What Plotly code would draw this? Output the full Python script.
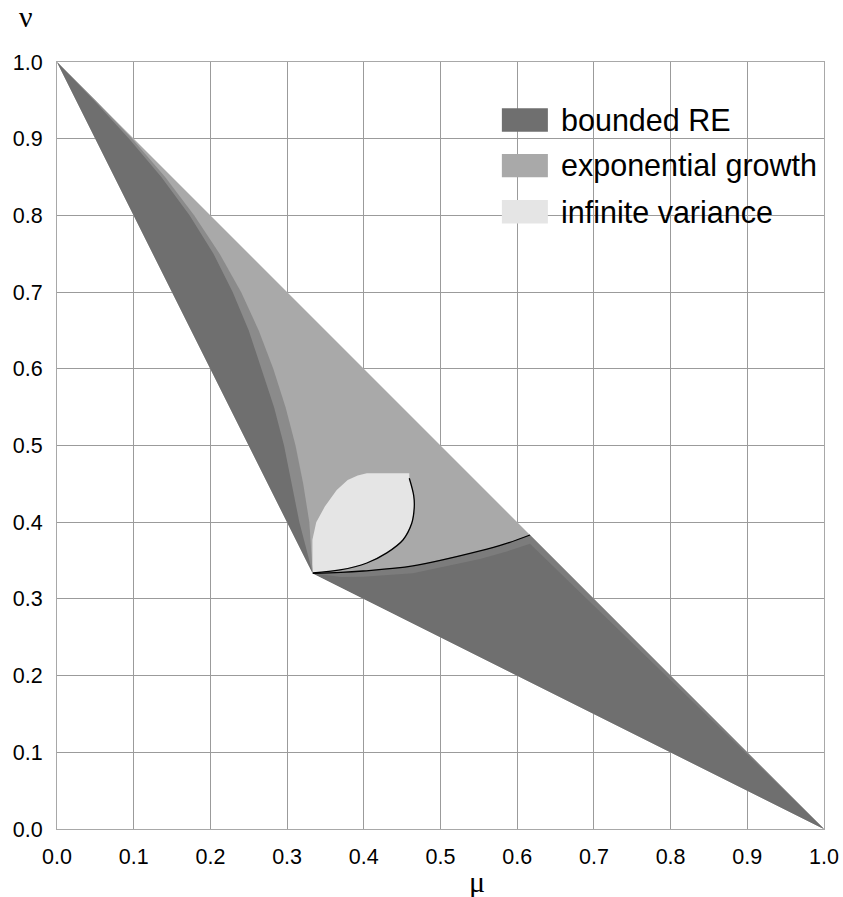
import plotly.graph_objects as go

# ---- data ----
# outer triangle (mu, nu)
tri_mu = [0.0, 1.0, 1/3, 0.0]
tri_nu = [1.0, 0.0, 1/3, 1.0]

# boundary of the left "bounded RE" wedge (dark side and end of soft shading)
left_nu = [1.0, 0.95, 0.9, 0.85, 0.8, 0.75, 0.7, 0.65, 0.6, 0.55, 0.5, 0.45, 0.4, 1/3]
left_mu_dark = [0.0, 0.048, 0.094, 0.136, 0.173, 0.204, 0.229, 0.250, 0.267, 0.283, 0.296, 0.306, 0.316, 1/3]
left_mu_shade = [0.0, 0.050, 0.098, 0.141, 0.179, 0.212, 0.240, 0.263, 0.282, 0.298, 0.311, 0.321, 0.329, 1/3]

# lower black curve separating exponential growth from bounded RE (right part)
low_mu = [1/3, 0.370, 0.399, 0.464, 0.5515, 0.584, 0.6167]
low_nu = [1/3, 0.3345, 0.3364, 0.343, 0.3625, 0.3716, 0.3833]
# lower end of the soft shading below that curve
low_shade_nu = [1/3, 0.3285, 0.3290, 0.3335, 0.3520, 0.3610, 0.3720]

# infinite variance lens
lens_mu = [0.3338, 0.333, 0.333, 0.338, 0.349, 0.3647, 0.379, 0.392, 0.404, 0.4593,
           0.4593, 0.4650, 0.4658, 0.4625, 0.451, 0.430, 0.404, 0.369, 0.3338]
lens_nu = [0.3338, 0.345, 0.377, 0.400, 0.420, 0.442, 0.455, 0.461, 0.4637, 0.4637,
           0.4573, 0.435, 0.420, 0.3986, 0.3768, 0.360, 0.3468, 0.3377, 0.3338]
# black curve on the right side of the lens
lens_edge_mu = [0.4593, 0.4650, 0.4658, 0.4625, 0.451, 0.430, 0.404, 0.369, 0.3338]
lens_edge_nu = [0.4573, 0.435, 0.420, 0.3986, 0.3768, 0.360, 0.3468, 0.3377, 0.3338]

legend_names = ["bounded RE", "exponential growth", "infinite variance"]
legend_colors = ["#6f6f6f", "#a9a9a9", "#e5e5e5"]
shade_color = "#8b8b8b"
low_shade_color = "#7c7c7c"

tick_vals = [i / 10 for i in range(11)]
tick_text = [f"{v:.1f}" for v in tick_vals]

DARK, MED, LIGHT = legend_colors

fig = go.Figure()


def poly(xs, ys, color):
    fig.add_trace(go.Scatter(x=xs, y=ys, mode="lines", fill="toself",
                             fillcolor=color, line=dict(width=0, color=color),
                             hoverinfo="skip", showlegend=False))


# whole admissible triangle: exponential growth
poly(tri_mu, tri_nu, MED)

# left wedge: soft shading band then dark
poly([tri_mu[0], tri_mu[2]] + left_mu_shade[::-1],
     [tri_nu[0], tri_nu[2]] + left_nu[::-1], shade_color)
poly([tri_mu[0], tri_mu[2]] + left_mu_dark[::-1],
     [tri_nu[0], tri_nu[2]] + left_nu[::-1], DARK)

# lower right region: soft band under the curve, then dark
poly(low_mu + [tri_mu[1], tri_mu[2]], low_nu + [tri_nu[1], tri_nu[2]], low_shade_color)
poly(low_mu + [tri_mu[1], tri_mu[2]], low_shade_nu + [tri_nu[1], tri_nu[2]], DARK)

# lens
poly(lens_mu, lens_nu, LIGHT)

# black boundary curves
fig.add_trace(go.Scatter(x=lens_edge_mu, y=lens_edge_nu, mode="lines",
                         line=dict(color="black", width=1.3, shape="spline"),
                         hoverinfo="skip", showlegend=False))
fig.add_trace(go.Scatter(x=low_mu, y=low_nu, mode="lines",
                         line=dict(color="black", width=1.3, shape="spline"),
                         hoverinfo="skip", showlegend=False))

# custom legend (large swatches)
leg_x0, leg_x1, leg_tx = 0.580, 0.640, 0.6550
leg_y = [0.9244, 0.8648, 0.8048]
leg_h = 0.0304
shapes = []
annotations = []
for name, col, yc in zip(legend_names, legend_colors, leg_y):
    shapes.append(dict(type="rect", xref="x", yref="y", x0=leg_x0, x1=leg_x1,
                       y0=yc - leg_h / 2, y1=yc + leg_h / 2,
                       fillcolor=col, line=dict(width=0), layer="above"))
    annotations.append(dict(x=leg_tx, y=yc, xref="x", yref="y", text=name,
                            showarrow=False, xanchor="left", yanchor="middle",
                            font=dict(family="Liberation Sans, Arial", size=30.5, color="black")))

annotations.append(dict(x=0.5476, y=-0.069, xref="paper", yref="paper", text="μ",
                        showarrow=False, xanchor="center", yanchor="middle",
                        font=dict(family="Liberation Serif, Times New Roman", size=30, color="black")))
annotations.append(dict(x=-0.0404, y=1.0587, xref="paper", yref="paper", text="ν",
                        showarrow=False, xanchor="center", yanchor="middle",
                        font=dict(family="Liberation Serif, Times New Roman", size=30, color="black")))

axis_common = dict(range=[0, 1], tickvals=tick_vals, ticktext=tick_text,
                   showgrid=True, gridcolor="#9b9b9b", gridwidth=1,
                   zeroline=False, showline=True, linecolor="#a8a8a8", linewidth=1,
                   mirror=True, ticks="outside", tickcolor="rgba(0,0,0,0)",
                   tickfont=dict(family="Liberation Sans, Arial", size=21.5, color="black"),
                   automargin=False, fixedrange=True)

fig.update_layout(
    width=843, height=897,
    margin=dict(l=57, r=19, t=62, b=68),
    paper_bgcolor="white", plot_bgcolor="white",
    xaxis=dict(**axis_common, ticklen=8),
    yaxis=dict(**axis_common, ticklen=9),
    shapes=shapes, annotations=annotations,
    showlegend=False,
)

fig.write_html("out.html", config={"displayModeBar": False},
               post_script="document.body.style.margin='0';document.body.style.overflow='hidden';")
